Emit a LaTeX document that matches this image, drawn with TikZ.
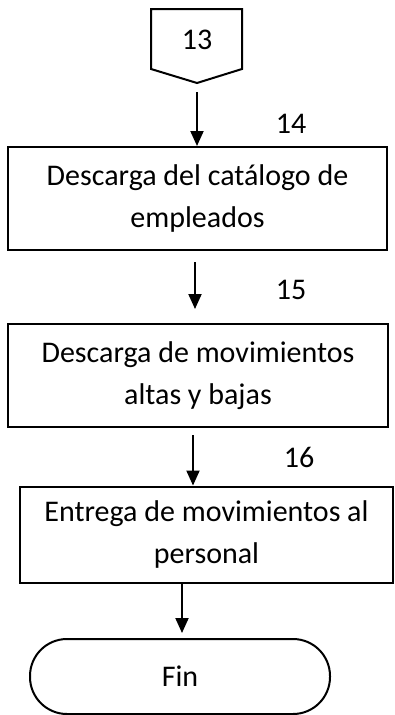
\documentclass[tikz,border=0pt]{standalone}
\usepackage{fontspec}
\setmainfont{Carlito}
\usetikzlibrary{arrows.meta,calc}
\begin{document}
\begin{tikzpicture}[x=1pt,y=-1pt,
  every node/.style={font=\fontsize{30}{36}\selectfont, inner sep=0pt},
  procbox/.style={draw, line width=2pt, align=center},
  arr/.style={line width=2pt, -{Triangle[width=13pt,length=15pt]}},
  conn/.style={draw, line width=2pt, line join=miter}]
\useasboundingbox (0,0) rectangle (394,715);
% off-page connector
\draw[conn] (151,9) -- (242,9) -- (242,69) -- (197,83) -- (151,69) -- cycle;
\node (c13) at (197,40) {13};
\coordinate (a1s) at (197,92);
% boxes
\node[procbox, minimum width=379pt, minimum height=103pt] (b1) at (197.5,198.5) {Descarga del catálogo de\\[6pt]empleados};
\node[procbox, minimum width=380pt, minimum height=103pt] (b2) at (198,375.5) {Descarga de movimientos\\[6pt]altas y bajas};
\node[procbox, minimum width=373pt, minimum height=96pt] (b3) at (206.5,534.5) {Entrega de movimientos al\\[6pt]personal};
\node[draw, line width=2pt, minimum width=300pt, minimum height=75pt, rounded corners=37pt] (fin) at (180,676.5) {Fin};
% labels
\node (l14) at (291,124) {14};
\node (l15) at (291,290) {15};
\node (l16) at (299,457) {16};
% connectors
\coordinate (a2s) at (195,262);
\coordinate (a3s) at (193,435);
\coordinate (a4e) at (182,633);
\draw[arr] (a1s) -- (b1.north -| a1s);
\draw[arr] (a2s) -- ($(b2.north -| a2s)+(0,-14)$);
\draw[arr] (a3s) -- (b3.north -| a3s);
\draw[arr] (b3.south -| a4e) -- (a4e);
\end{tikzpicture}
\end{document}
